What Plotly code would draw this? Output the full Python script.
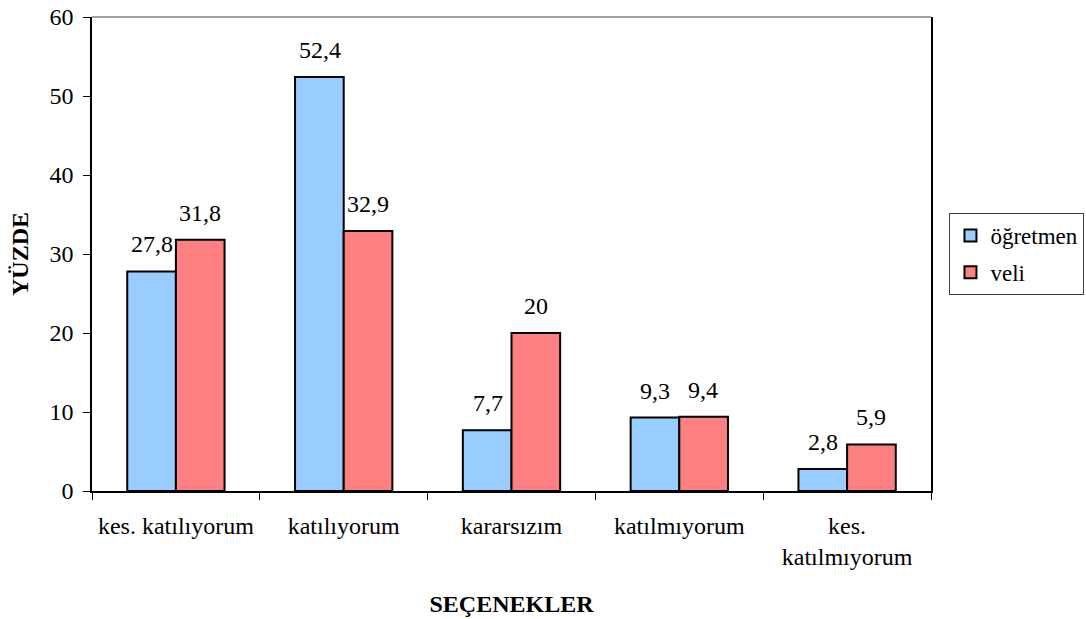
import plotly.graph_objects as go

categories = ["kes. katılıyorum", "katılıyorum", "kararsızım", "katılmıyorum", "kes.<br>katılmıyorum"]
ogretmen = [27.8, 52.4, 7.7, 9.3, 2.8]
veli = [31.8, 32.9, 20, 9.4, 5.9]
ogretmen_labels = ["27,8", "52,4", "7,7", "9,3", "2,8"]
veli_labels = ["31,8", "32,9", "20", "9,4", "5,9"]

font = "Liberation Serif"
f24 = dict(family=font, size=24, color="black")

fig = go.Figure()
fig.add_trace(go.Bar(x=categories, y=ogretmen, name="öğretmen", legendgroup="a",
                     marker=dict(color="#99CCFF", line=dict(color="black", width=2))))
fig.add_trace(go.Bar(x=categories, y=veli, name="veli", legendgroup="b",
                     marker=dict(color="#FF8080", line=dict(color="black", width=2))))

# value labels above each bar
for series, labels, shift in [(ogretmen, ogretmen_labels, -24), (veli, veli_labels, 24)]:
    for c, v, t in zip(categories, series, labels):
        fig.add_annotation(x=c, y=v, text=t, showarrow=False, xshift=shift, yshift=12,
                           yanchor="bottom", font=f24)

# grey top frame line
fig.add_shape(type="line", xref="paper", yref="paper", x0=0, x1=1, y0=1, y1=1,
              line=dict(color="#808080", width=1.5))

fig.update_layout(
    width=1086, height=619,
    margin=dict(l=92, r=155, t=17, b=128, autoexpand=False),
    plot_bgcolor="white", paper_bgcolor="white",
    font=f24,
    barmode="group", bargap=0.42, bargroupgap=0,
    legend=dict(x=1.022, y=0.5, xanchor="left", yanchor="middle",
                bordercolor="#404040", borderwidth=1, font=dict(family=font, size=23, color="black"),
                traceorder="grouped", tracegroupgap=4),
    xaxis=dict(showline=True, linecolor="black", linewidth=1.5, mirror=False, automargin=False,
               ticks="outside", tickson="boundaries", ticklen=7, tickcolor="black", tickfont=f24,
               ticklabelstandoff=12,
               title=dict(text="<b>SEÇENEKLER</b>", font=f24, standoff=26)),
    yaxis=dict(range=[0, 60], dtick=10, showline=True, linecolor="black", linewidth=1.5, mirror=True,
               automargin=False, ticks="outside", ticklen=7, tickcolor="black", tickfont=f24,
               ticklabelstandoff=5, showgrid=False, zeroline=False,
               title=dict(text="<b>YÜZDE</b>", font=f24, standoff=14)),
)

fig.write_html("out.html", config={"displayModeBar": False},
               post_script="document.body.style.margin='0px';")
